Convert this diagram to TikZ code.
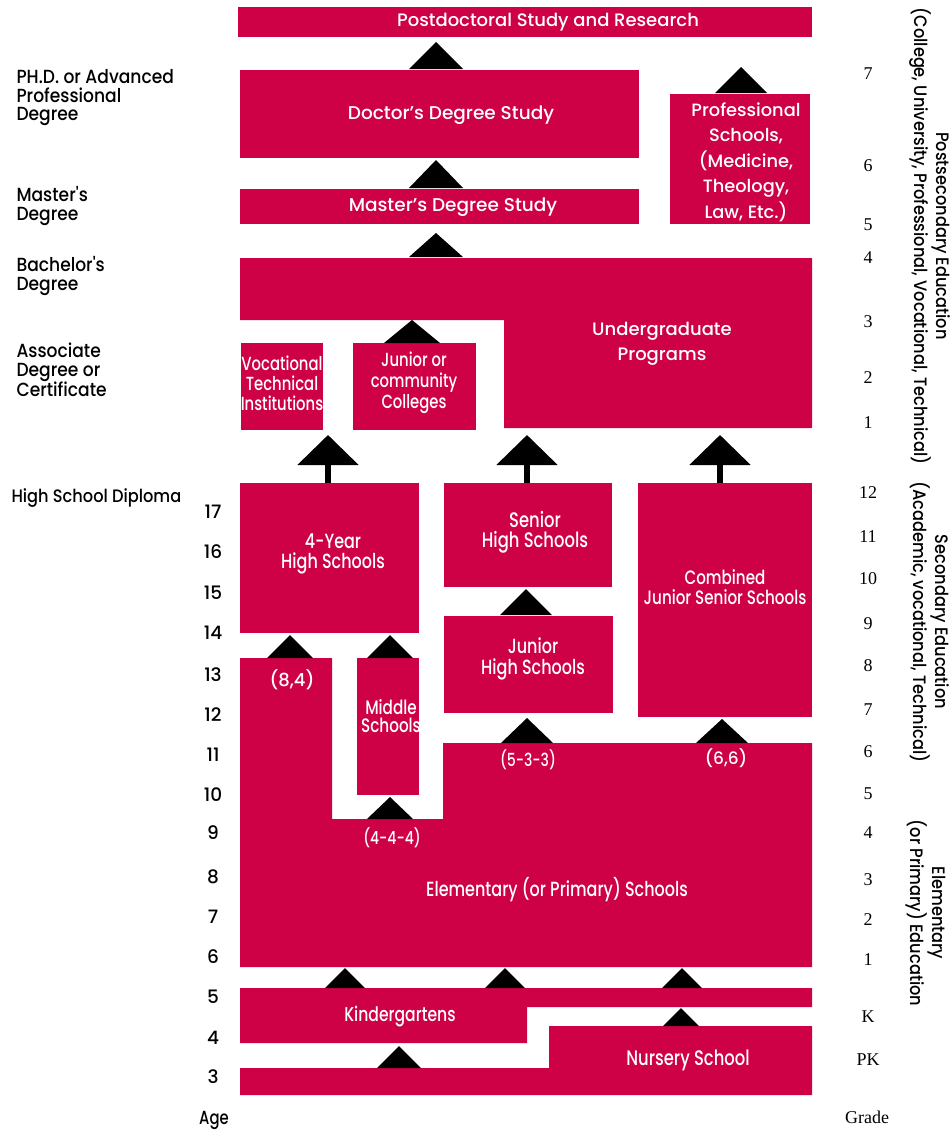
\documentclass[tikz,border=0pt]{standalone}
\usepackage{fontspec}
\IfFontExistsTF{Poppins Medium}{%
  \setmainfont{Poppins Medium}
  \newfontfamily\cond{Poppins Medium}[FakeStretch=0.78]
  \newfontfamily\semi{Poppins Medium}[FakeStretch=0.9]}{%
  \setmainfont{Poppins}
  \newfontfamily\cond{Poppins}[FakeStretch=0.78]
  \newfontfamily\semi{Poppins}[FakeStretch=0.9]}
\newfontfamily\gradefont{Liberation Serif}
\usetikzlibrary{arrows.meta}
\definecolor{schoolred}{RGB}{206,0,70}

\begin{document}
\begin{tikzpicture}[x=1pt,y=-1pt,
  box/.style={fill=schoolred},
  lbl/.style={text=white,align=center},
  side/.style={anchor=west,align=left,font=\semi\fontsize{19}{18.5}\selectfont},
  age/.style={font=\fontsize{18.5}{20}\selectfont},
  grade/.style={font=\gradefont\fontsize{18}{20}\selectfont},
  band/.style={rotate=-90,align=center,font=\semi\fontsize{18}{18}\selectfont},
  stem/.style={line width=6pt,-{Triangle[length=30pt,width=60pt]}}]

  \useasboundingbox (0,0) rectangle (952,1130);

  % postsecondary
  \fill[box] (238,7) rectangle (812,37);
  \fill[box] (240,70) rectangle (639,158);
  \fill[box] (240,189) rectangle (639,224);
  \fill[box] (670,94) rectangle (810,224);
  \fill[box] (240,258) -- (812,258) -- (812,428) -- (504,428) -- (504,320)
    -- (240,320) -- cycle;
  \fill[box] (241,343) rectangle (323,430);
  \fill[box] (353,343) rectangle (476,430);

  % secondary
  \fill[box] (240,483) rectangle (419,633);
  \fill[box] (444,483) rectangle (612,587);
  \fill[box] (444,616) rectangle (613,713);
  \fill[box] (638,483) rectangle (812,717);
  \fill[box] (357,658) rectangle (419,795);

  % elementary and before
  \fill[box] (240,658) -- (332,658) -- (332,819) -- (443,819) -- (443,743)
    -- (812,743) -- (812,967) -- (240,967) -- cycle;
  \fill[box] (240,988) -- (812,988) -- (812,1007) -- (527,1007) -- (527,1043)
    -- (240,1043) -- cycle;
  \fill[box] (549,1026) -- (812,1026) -- (812,1095) -- (240,1095) -- (240,1068)
    -- (549,1068) -- cycle;

  % triangles: x / base / apex / half width
  \foreach \x/\b/\a/\w in {436/69/42/27, 436/188/160/27, 436/257/233/27,
    741/93/67/26, 412/343/320/28, 526/615/589/26, 527/743/718/26,
    722/743/719/26, 290/658/635/23, 390/658/635/23, 390/819/797/23,
    345/988/968/20, 505/988/968/20, 682/988/968/20, 681/1026/1008/18,
    399/1068/1046/22}
    \fill (\x-\w,\b) -- (\x+\w,\b) -- (\x,\a) -- cycle;

  \foreach \x in {328,527,720}
    \draw[stem] (\x,483) -- (\x,435);

  % box texts
  \node[lbl,font=\fontsize{18}{20}\selectfont] (postdoc) at (548,22)
    {Postdoctoral Study and Research};
  \node[lbl,font=\fontsize{18.5}{20}\selectfont] (doctor) at (451,115)
    {Doctor's Degree Study};
  \node[lbl,font=\fontsize{18.5}{20}\selectfont] (master) at (453,207)
    {Master's Degree Study};
  \node[lbl,font=\fontsize{17.8}{25.5}\selectfont] (prof) at (746,162)
    {Professional\\Schools,\\(Medicine,\\Theology,\\Law, Etc.)};
  \node[lbl,font=\fontsize{18}{25}\selectfont] (under) at (662,344)
    {Undergraduate\\Programs};
  \node[lbl,font=\cond\fontsize{19}{20}\selectfont] (voc) at (282,383)
    {Vocational\\Technical\\Institutions};
  \node[lbl,font=\cond\fontsize{19}{21}\selectfont] (jrcol) at (414,383)
    {Junior or\\community\\Colleges};
  \node[lbl,font=\cond\fontsize{20.5}{19.5}\selectfont] (hs4) at (333,554)
    {4-Year\\High Schools};
  \node[lbl,font=\cond\fontsize{21}{20}\selectfont] (senior) at (535,532)
    {Senior\\High Schools};
  \node[lbl,font=\cond\fontsize{20.5}{20.5}\selectfont] (junior) at (533,659)
    {Junior\\High Schools};
  \node[lbl,font=\cond\fontsize{19.5}{18}\selectfont] (middle) at (391,716)
    {Middle\\Schools};
  \node[lbl,font=\cond\fontsize{19.4}{20}\selectfont] (combined) at (725,587)
    {Combined\\Junior Senior Schools};
  \node[lbl,font=\fontsize{18}{20}\selectfont] (p84) at (292,680) {(8,4)};
  \node[lbl,font=\cond\fontsize{18}{20}\selectfont] (p444) at (392,838) {(4-4-4)};
  \node[lbl,font=\cond\fontsize{18}{20}\selectfont] (p533) at (528,760) {(5-3-3)};
  \node[lbl,font=\fontsize{17}{20}\selectfont] (p66) at (726,758) {(6,6)};
  \node[lbl,font=\cond\fontsize{20.5}{20}\selectfont] (elem) at (557,890)
    {Elementary (or Primary) Schools};
  \node[lbl,font=\cond\fontsize{20}{20}\selectfont] (kinder) at (400,1017)
    {Kindergartens};
  \node[lbl,font=\cond\fontsize{21}{20}\selectfont] (nursery) at (688,1060)
    {Nursery School};

  % degrees on the left
  \node[side] (phd) at (13,98) {PH.D. or Advanced\\Professional\\Degree};
  \node[side] (masdeg) at (13,206) {Master's\\Degree};
  \node[side] (bachdeg) at (13,276) {Bachelor's\\Degree};
  \node[side] (assoc) at (13,370) {Associate\\Degree or\\Certificate};
  \node[side,font=\semi\fontsize{18}{18}\selectfont] (diploma) at (8,498)
    {High School Diploma};

  % age column
  \foreach \a/\y in {17/512, 16/552, 15/593, 14/633, 13/675, 12/715, 11/755,
    10/795, 9/833, 8/877, 7/917, 6/957, 5/997, 4/1038, 3/1077}
    \node[age] (age\a) at (213,\y) {\a};
  \node[age,font=\cond\fontsize{19}{20}\selectfont] (agelbl) at (214,1120) {Age};

  % grade column
  \foreach \g/\y [count=\i] in {7/74, 6/166, 5/225, 4/258, 3/322, 2/378, 1/423,
    12/493, 11/537, 10/579, 9/624, 8/666, 7/710, 6/752, 5/794, 4/833,
    3/880, 2/920, 1/960, K/1017, PK/1060}
    \node[grade] (grade\i) at (868,\y) {\g};
  \node[grade] (gradelbl) at (867,1117) {Grade};

  % levels on the right
  \node[band] (post) at (930,236)
    {Postsecondary Education\\(College, University, Professional, Vocational, Technical)};
  \node[band] (second) at (930,622)
    {Secondary Education\\(Academic, vocational, Technical)};
  \node[band] (elemed) at (926,913)
    {Elementary\\(or Primary) Education};
\end{tikzpicture}
\end{document}
